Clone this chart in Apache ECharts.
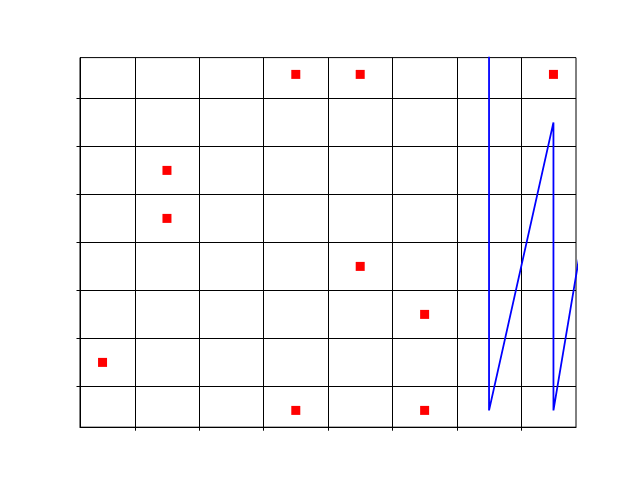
<!DOCTYPE html>
<html>
<head>
<meta charset="utf-8">
<script src="https://cdn.jsdelivr.net/npm/echarts@6/dist/echarts.min.js"></script>
<style>html,body{margin:0;padding:0;background:#fff;}#c{width:640px;height:480px;}</style>
</head>
<body>
<div id="c"></div>
<script>
var xTicks = [1, 2, 3, 4, 5, 6, 7];
var yTicks = [1, 2, 3, 4, 5, 6, 7];
var markerX = [0.5, 1.5, 1.5, 3.5, 3.5, 4.5, 4.5, 5.5, 5.5, 7.5];
var markerY = [1.5, 5.5, 4.5, 7.5, 0.5, 7.5, 3.5, 2.5, 0.5, 7.5];
var lineX = [6.5, 6.5, 7.5, 7.5, 8.5];
var lineY = [8.5, 0.5, 6.5, 0.5, 8.5];

var markerData = markerX.map(function (x, i) { return [x, markerY[i]]; });
var lineData = lineX.map(function (x, i) { return [x, lineY[i]]; });

var chart = echarts.init(document.getElementById('c'), null, {renderer: 'canvas'});
chart.setOption({
  animation: false,
  backgroundColor: '#fff',
  grid: {left: 80, right: 64, top: 57.6, bottom: 52.8, show: true, borderColor: '#000', borderWidth: 1, containLabel: false},
  xAxis: {
    type: 'value', min: 0.15, max: 7.85,
    axisLine: {show: true, lineStyle: {color: '#000', width: 1}},
    axisTick: {show: true, length: 3.5, customValues: xTicks, lineStyle: {color: '#000', width: 1}},
    axisLabel: {show: false},
    splitLine: {show: true, lineStyle: {color: '#000', width: 1}}
  },
  yAxis: {
    type: 'value', min: 0.15, max: 7.85,
    axisLine: {show: true, lineStyle: {color: '#000', width: 1}},
    axisTick: {show: true, length: 3.5, customValues: yTicks, lineStyle: {color: '#000', width: 1}},
    axisLabel: {show: false},
    splitLine: {show: true, lineStyle: {color: '#000', width: 1}}
  },
  series: [
    {type: 'line', data: lineData, symbol: 'none', clip: true,
     lineStyle: {color: '#0000ff', width: 1.8}, z: 3},
    {type: 'scatter', data: markerData, symbol: 'rect', symbolSize: 9,
     itemStyle: {color: '#ff0000', opacity: 1}, z: 4}
  ]
});
</script>
</body>
</html>
